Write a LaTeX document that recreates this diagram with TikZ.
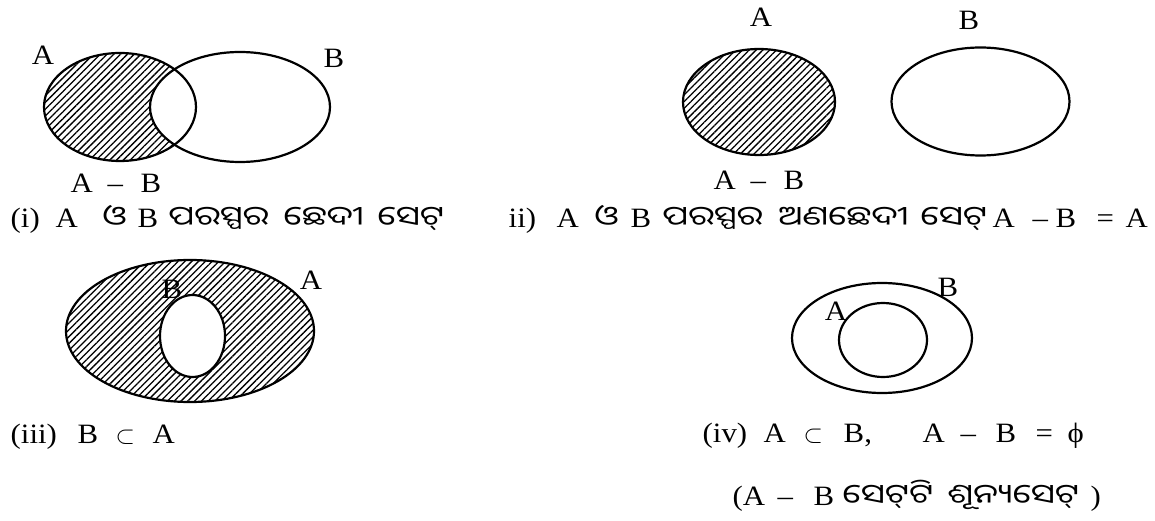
\documentclass[tikz,border=0pt]{standalone}
\usepackage{fontspec}
\setmainfont[FakeStretch=1.1]{Liberation Serif}
\newfontfamily\odia[Script=Oriya,Scale=0.95,FakeStretch=1.3]{Noto Sans Oriya UI}
\usetikzlibrary{patterns.meta}
\newcommand\putw[2]{\rlap{\hspace*{#1pt}#2}}
\tikzset{
  setline/.style={line width=2.2pt},
  hatch/.style={pattern={Lines[angle=45,distance=4.8pt,line width=1.3pt]}},
  lbl/.style={anchor=base, inner sep=0pt, font=\fontsize{28}{33}\selectfont},
  txt/.style={anchor=base west, inner sep=0pt, font=\fontsize{28}{33}\selectfont},
}
\begin{document}
\begin{tikzpicture}[x=1pt,y=-1pt]
\useasboundingbox[fill=white] (0,0) rectangle (1155,521);
% ---------- (i)
\begin{scope}
  \clip (120,107) ellipse (76 and 54);
  \fill[hatch] (40,50) rectangle (200,165);
\end{scope}
\fill[white] (240,107) ellipse (90 and 55);
\draw[setline] (120,107) ellipse (76 and 54);
\draw[setline] (240,107) ellipse (90 and 55);
\node[lbl] (iA) at (43,65) {A};
\node[lbl] (iB) at (334,68) {B};
\node[txt] (iAB) at (70,193) {\putw{0}{A}\putw{37}{–}\putw{70}{B}};
\node[txt] (it) at (10,227) {\putw{0}{(i)}\putw{45}{A}\putw{92}{\odia ଓ}\putw{127}{B}\putw{158}{\odia ପରସ୍ପର}\putw{273}{\odia ଛେଦୀ}\putw{367}{\odia ସେଟ୍}};
% ---------- (ii)
\draw[setline, hatch] (759,102) ellipse (76 and 53);
\draw[setline] (980.5,101.5) ellipse (89 and 54);
\node[lbl] (iiA) at (761,27) {A};
\node[lbl] (iiB) at (969,30) {B};
\node[txt] (iiAB) at (713,190) {\putw{0}{A}\putw{37}{–}\putw{70}{B}};
\node[txt] (iit) at (508,227) {\putw{0}{ii)}\putw{48}{A}\putw{86}{\odia ଓ}\putw{122}{B}\putw{154}{\odia ପରସ୍ପର}\putw{270}{\odia ଅଣଛେଦୀ}\putw{412}{\odia ସେଟ୍}\putw{484}{A}\putw{524}{–}\putw{547}{B}\putw{588}{=}\putw{617}{A}};
% ---------- (iii)
\draw[setline, hatch] (190,331) ellipse (124 and 71);
\draw[setline, fill=white] (192.5,336) ellipse (32.5 and 41);
\node[lbl] (iiiB) at (172,298) {B};
\node[lbl] (iiiA) at (311,289) {A};
\node[txt] (iiit) at (10,443) {\putw{0}{(iii)}\putw{67}{B}\putw{105}{$\subset$}\putw{142}{A}};
% ---------- (iv)
\draw[setline] (882,338) ellipse (90 and 55);
\draw[setline] (883,340) ellipse (44 and 37);
\node[lbl] (ivB) at (948,296) {B};
\node[lbl] (ivA) at (836,320) {A};
\node[txt] (ivt) at (702,442) {\putw{0}{(iv)}\putw{61}{A}\putw{101}{$\subset$}\putw{141}{B,}\putw{220}{A}\putw{258}{–}\putw{293}{B}\putw{333}{=}\putw{365}{ϕ}};
\node[txt] (ivt2) at (732,505) {\putw{0}{(A}\putw{45}{–}\putw{81}{B}\putw{110}{\odia ସେଟ୍‌ଟି}\putw{215}{\odia ଶୂନ୍ୟସେଟ୍}\putw{358}{)}};
\end{tikzpicture}
\end{document}
